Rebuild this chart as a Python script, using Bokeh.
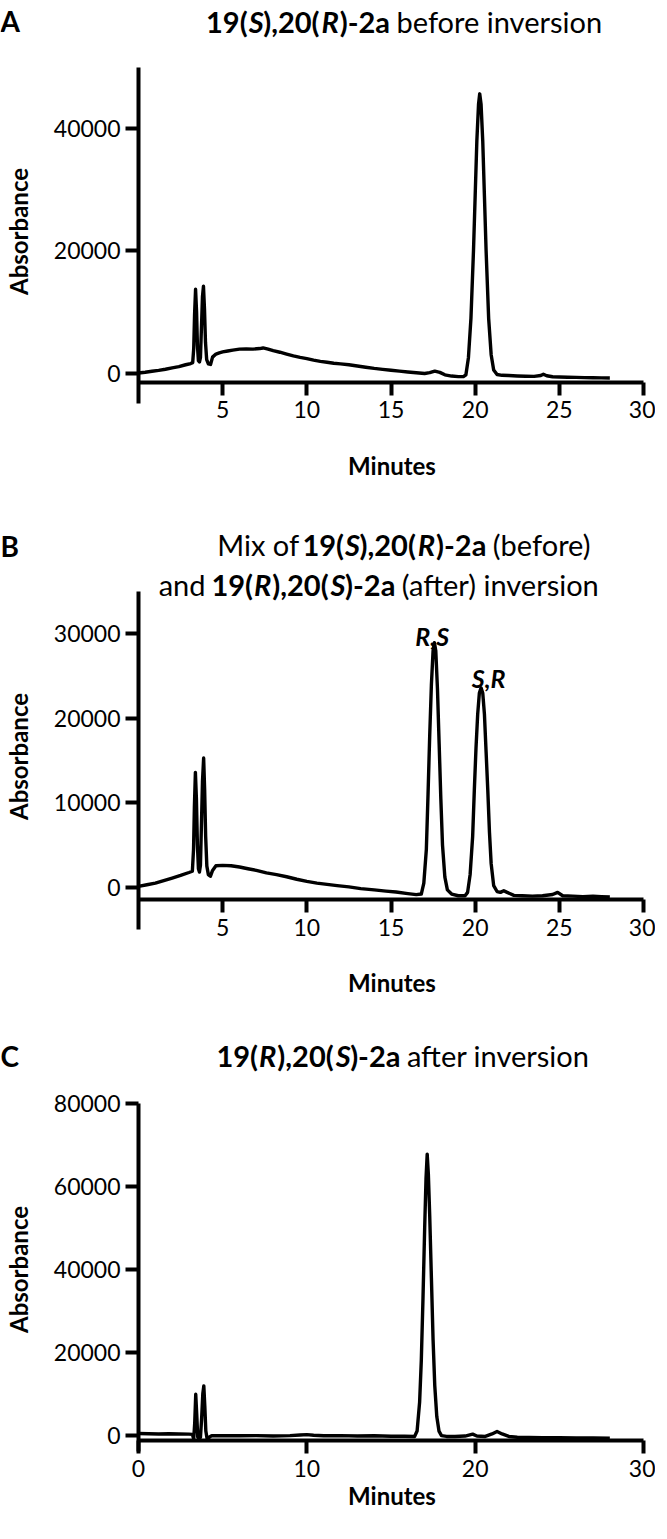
import math
from bokeh.plotting import figure
from bokeh.models import Range1d, FixedTicker, Label, ColumnDataSource, BasicTickFormatter
from bokeh.layouts import column
from bokeh.embed import file_html
from bokeh.resources import INLINE
from bokeh.core.properties import value

# ---------------------------------------------------------------- data
# Panel A : 19(S),20(R)-2a before inversion
time_a = [0.0, 0.4, 0.8, 1.2, 1.6, 2.0, 2.4, 2.8, 3.1, 3.22, 3.28, 3.33, 3.39, 3.45, 3.5, 3.56,
          3.62, 3.68, 3.74, 3.8, 3.86, 3.92, 3.98, 4.05, 4.15, 4.28, 4.4, 4.6, 4.8, 5.0, 5.3, 5.6,
          6.0, 6.4, 6.8, 7.2, 7.4, 7.7, 8.0, 8.4, 8.8, 9.2, 9.6, 10.0, 10.4, 10.8, 11.2, 11.6,
          12.0, 12.5, 13.0, 13.5, 14.0, 14.5, 15.0, 15.5, 16.0, 16.5, 17.0, 17.3, 17.6, 17.9,
          18.2, 18.6, 19.0, 19.3, 19.45, 19.6, 19.75, 19.9, 20.0, 20.1, 20.2, 20.27, 20.35, 20.45,
          20.55, 20.65, 20.8, 20.95, 21.1, 21.3, 21.6, 22.0, 22.5, 23.0, 23.5, 23.9, 24.05, 24.25,
          24.6, 25.0, 25.5, 26.0, 26.5, 27.0, 27.5, 28.0]
abs_a = [0, 120, 280, 420, 620, 850, 1050, 1350, 1550, 1700, 4000, 9500, 13700, 10000, 4500, 2000,
         1800, 2500, 7500, 12500, 14200, 10500, 5000, 2200, 1500, 1400, 2600, 3100, 3300, 3450, 3600, 3750,
         3900, 3950, 3900, 4000, 4100, 3900, 3650, 3400, 3100, 2800, 2550, 2350, 2100, 1900, 1750, 1600,
         1500, 1350, 1150, 950, 750, 600, 450, 300, 170, 50, -80, 50, 300, 100,
         -300, -500, -600, -600, -300, 2500, 9000, 20000, 29000, 38000, 44000, 45700, 44000, 38000,
         29000, 20000, 9000, 3000, 500, -250, -380, -420, -480, -520, -560, -400, -200, -450,
         -620, -650, -700, -720, -760, -780, -800, -820]

# Panel B : mix of both isomers
time_b = [0.0, 0.5, 1.0, 1.5, 2.0, 2.5, 3.0, 3.2, 3.27, 3.32, 3.38, 3.44, 3.5, 3.56, 3.62, 3.68,
          3.74, 3.8, 3.87, 3.93, 3.99, 4.06, 4.15, 4.27, 4.4, 4.6, 5.0, 5.5, 6.0, 6.5, 7.0, 7.6,
          8.2, 8.8, 9.4, 10.0, 10.6, 11.2, 11.8, 12.5, 13.2, 14.0, 14.7, 15.3, 16.0, 16.5, 16.8,
          16.95, 17.1, 17.2, 17.3, 17.4, 17.5, 17.58, 17.66, 17.76, 17.86, 17.96, 18.06, 18.2,
          18.35, 18.6, 19.0, 19.4, 19.55, 19.7, 19.85, 19.95, 20.05, 20.15, 20.25, 20.35, 20.45,
          20.55, 20.65, 20.75, 20.85, 20.95, 21.1, 21.3, 21.5, 21.7, 21.9, 22.3, 22.8, 23.4, 24.0,
          24.6, 24.9, 25.2, 25.8, 26.4, 27.0, 27.5, 28.0]
abs_b = [100, 300, 500, 800, 1100, 1400, 1750, 1900, 4500, 9500, 13600, 10500, 5000, 2200, 1800, 2600,
         7500, 12500, 15300, 11500, 6000, 2500, 1500, 1300, 2000, 2550, 2600, 2550, 2400, 2200, 2000, 1700,
         1500, 1250, 950, 700, 500, 350, 200, 50, -150, -300, -450, -560, -750, -870, -800,
         500, 4500, 11000, 18000, 24000, 28000, 28950, 28000, 23500, 17000, 10500, 5000, 1200,
         -300, -800, -1000, -1000, -600, 1500, 6000, 11500, 16500, 20500, 23000, 23600, 23000,
         20500, 16000, 11500, 6500, 2800, 200, -500, -600, -400, -600, -950, -1000, -1050, -1000,
         -850, -600, -1000, -1050, -1100, -1050, -1100, -1150]

# Panel C : 19(R),20(S)-2a after inversion
time_c = [0.0, 0.6, 1.2, 1.8, 2.4, 3.0, 3.2, 3.28, 3.34, 3.4, 3.46, 3.52, 3.6, 3.68, 3.75, 3.82,
          3.88, 3.94, 4.0, 4.08, 4.2, 4.35, 4.6, 5.2, 6.0, 7.0, 8.0, 9.0, 9.6, 10.0, 10.4, 11.0,
          12.0, 13.0, 14.0, 15.0, 15.8, 16.4, 16.55, 16.7, 16.8, 16.9, 17.0, 17.08, 17.15, 17.22,
          17.3, 17.4, 17.5, 17.6, 17.72, 17.85, 18.0, 18.3, 18.8, 19.4, 19.85, 20.1, 20.6, 21.0,
          21.3, 21.6, 22.0, 22.5, 23.2, 24.0, 25.0, 26.0, 27.0, 28.0]
abs_c = [400, 350, 300, 350, 300, 250, 200, -900, 3000, 9900, 5000, -500, -600, -500, 4000, 10000,
         11900, 7000, 1000, -1000, -500, -100, -150, -100, -150, -100, -200, -100, 50, 150, 0, -150,
         -100, -200, -150, -250, -250, -300, 1000, 8000, 18000, 33000, 50000, 62000, 67900, 63000,
         53000, 38000, 23000, 12000, 4500, 1000, -100, -300, -300, -200, 250, -200, -300, 300,
         900, 300, -300, -500, -550, -600, -600, -650, -650, -700]

x_ticks_ab = [5, 10, 15, 20, 25, 30]
x_ticks_c = [0, 10, 20, 30]
y_ticks_a = [0, 20000, 40000]
y_ticks_b = [0, 10000, 20000, 30000]
y_ticks_c = [0, 20000, 40000, 60000, 80000]

peak_label_text = ["R,S", "S,R"]
peak_label_time = [17.45, 20.8]
peak_label_abs = [30800, 25800]

panel_letters = ["A", "B", "C"]
x_label = "Minutes"
y_label = "Absorbance"

title_a = [("19(", "bold"), ("S", "bold italic"), ("),20(", "bold"), ("R", "bold italic"),
           (")-2a", "bold"), (" before inversion", "normal")]
title_b1 = [("Mix of ", "normal"), ("19(", "bold"), ("S", "bold italic"), ("),20(", "bold"),
            ("R", "bold italic"), (")-2a", "bold"), (" (before)", "normal")]
title_b2 = [("and ", "normal"), ("19(", "bold"), ("R", "bold italic"), ("),20(", "bold"),
            ("S", "bold italic"), (")-2a", "bold"), (" (after) inversion", "normal")]
title_c = [("19(", "bold"), ("R", "bold italic"), ("),20(", "bold"), ("S", "bold italic"),
           (")-2a", "bold"), (" after inversion", "normal")]

# ---------------------------------------------------------------- layout / style
FONT = "Lato"
FIG_W = 655
MARGIN = 8
X0_PAGE = 146.0            # page x of t = 0
PX_PER_MIN = 505.0 / 30.0  # horizontal scale
CAP = 0.7165               # Lato cap height (em)
TITLE_FS = 29
LETTER_FS = 28
AXLAB_FS = 24
TICK_FS = 23
TRACE_W = 3.4

REG_W = {' ': 0.193, '(': 0.29, ')': 0.29, ',': 0.20, '-': 0.345, 'a': 0.505, 'b': 0.56,
         'd': 0.56, 'e': 0.53, 'f': 0.335, 'i': 0.24, 'n': 0.56, 'o': 0.565, 'r': 0.38,
         's': 0.43, 't': 0.365, 'v': 0.52, 'x': 0.505, 'M': 0.905}
BOLD_W = {' ': 0.193, '(': 0.31, ')': 0.31, ',': 0.23, '-': 0.36, 'a': 0.515, 'R': 0.63, 'S': 0.50,
          'A': 0.70, 'b': 0.575, 's': 0.44, 'o': 0.575, 'r': 0.40, 'n': 0.575, 'c': 0.475,
          'e': 0.545, 'M': 0.92, 'i': 0.26, 'u': 0.575, 't': 0.39}


def text_width(s, style, fs):
    table = REG_W if style == "normal" else BOLD_W
    w = 0.0
    for ch in s:
        w += 0.58 if ch.isdigit() else table.get(ch, 0.55)
    return w * fs


panels = [
    dict(page_top=8, height=510, y0_page=380.5, upp=55000 / 336.0, ybounds=(-5000, 50000),
         xaxis_at=-1500, t=time_a, v=abs_a, xticks=x_ticks_ab, yticks=y_ticks_a,
         letter_y=18.5, titles=[(title_a, 412, 18.5)], ylab_y=238, xlab_y=464),
    dict(page_top=518, height=510, y0_page=894.8, upp=40000 / 338.0, ybounds=(-5000, 35000),
         xaxis_at=-1500, t=time_b, v=abs_b, xticks=x_ticks_ab, yticks=y_ticks_b,
         letter_y=543, titles=[(title_b1, 413, 542), (title_b2, 388, 582)], ylab_y=763, xlab_y=981),
    dict(page_top=1028, height=496, y0_page=1442.7, upp=81400 / 337.0, ybounds=(-4000, 80000),
         xaxis_at=-1400, t=time_c, v=abs_c, xticks=x_ticks_c, yticks=y_ticks_c,
         letter_y=1053, titles=[(title_c, 411, 1053)], ylab_y=1276, xlab_y=1494),
]


def px_x(spec, px):
    return (px - X0_PAGE) / PX_PER_MIN


def px_y(spec, py):
    return (spec["y0_page"] - py) * spec["upp"]


def add_text(p, spec, text, px, py, fs, style, angle=0.0):
    p.add_layout(Label(x=px_x(spec, px), y=px_y(spec, py), text=text, text_font=FONT,
                       text_font_style=style, text_font_size=f"{fs}px", text_align="left",
                       text_baseline="alphabetic", text_color="black", angle=angle))


def add_rich_line(p, spec, pieces, cx, cy, fs):
    widths = [text_width(s, st, fs) for s, st in pieces]
    x = cx - sum(widths) / 2.0
    base = cy + CAP * fs / 2.0
    for (s, st), w in zip(pieces, widths):
        lead = len(s) - len(s.lstrip(" "))
        add_text(p, spec, s.strip(" "), x + text_width(s[:lead], st, fs), base, fs, st)
        x += w


def style_axis(ax, ticks, tick_standoff):
    ax.ticker = FixedTicker(ticks=ticks, minor_ticks=[])
    ax.major_label_text_font = FONT
    ax.major_label_text_font_size = f"{TICK_FS}px"
    ax.major_label_text_color = "black"
    ax.major_label_standoff = tick_standoff
    ax.axis_line_width = 4
    ax.axis_line_color = "black"
    ax.major_tick_line_width = 4
    ax.major_tick_line_color = "black"
    ax.major_tick_out = 13
    ax.major_tick_in = 0
    ax.minor_tick_line_color = None


figs = []
for i, spec in enumerate(panels):
    top, h = spec["page_top"], spec["height"]
    p = figure(width=FIG_W, height=h,
               x_range=Range1d(px_x(spec, MARGIN), px_x(spec, MARGIN + FIG_W)),
               y_range=Range1d(px_y(spec, top + h), px_y(spec, top)),
               output_backend="svg", toolbar_location=None,
               min_border_left=0, min_border_right=0, min_border_top=0, min_border_bottom=0)
    p.title.visible = False
    p.grid.visible = False
    p.outline_line_color = None
    p.background_fill_color = "white"
    p.border_fill_color = "white"

    src = ColumnDataSource(dict(t=spec["t"], v=spec["v"]))
    p.line("t", "v", source=src, line_color="black", line_width=TRACE_W, line_join="round")

    xa = p.xaxis[0]
    style_axis(xa, spec["xticks"], 6)
    xa.fixed_location = spec["xaxis_at"]
    xa.bounds = (0, 30)
    ya = p.yaxis[0]
    style_axis(ya, spec["yticks"], 5)
    ya.fixed_location = 0
    ya.bounds = spec["ybounds"]
    ya.formatter = BasicTickFormatter(use_scientific=False)

    # axis titles (left-aligned at half their estimated length before the centre)
    yw = text_width(y_label, "bold", AXLAB_FS)
    add_text(p, spec, y_label, 26, spec["ylab_y"] + yw / 2.0, AXLAB_FS, "bold", angle=math.pi / 2)
    xw = text_width(x_label, "bold", AXLAB_FS)
    add_text(p, spec, x_label, 400 - xw / 2.0, spec["xlab_y"] + CAP * AXLAB_FS / 2.0, AXLAB_FS, "bold")

    # panel letter and title
    add_text(p, spec, panel_letters[i], MARGIN, spec["letter_y"] + CAP * LETTER_FS / 2.0, LETTER_FS, "bold")
    for pieces, cx, cy in spec["titles"]:
        add_rich_line(p, spec, pieces, cx, cy, TITLE_FS)

    if i == 1:
        lab_src = ColumnDataSource(dict(x=peak_label_time, y=peak_label_abs, text=peak_label_text))
        p.text("x", "y", text="text", source=lab_src, text_font=value(FONT),
               text_font_style="bold italic", text_font_size="25px", text_align="center",
               text_baseline="alphabetic", y_offset=CAP * 25 / 2.0, text_color="black")
    figs.append(p)

layout = column(*figs, spacing=0)
open("out.html", "w").write(file_html(layout, INLINE, "Chromatograms"))
